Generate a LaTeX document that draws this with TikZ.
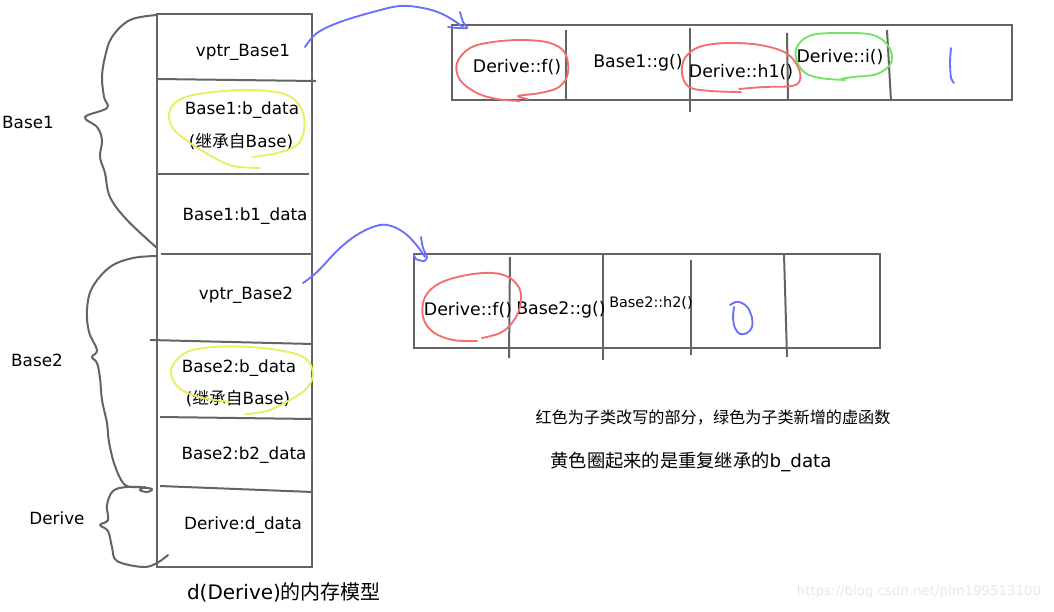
\documentclass[tikz,border=0pt]{standalone}
\usepackage{fontspec}
\setmainfont{DejaVu Sans}
\newfontfamily\cjk{Noto Sans CJK SC}
\definecolor{boxgray}{RGB}{100,100,100}
\definecolor{penblue}{RGB}{105,112,250}
\definecolor{penred}{RGB}{245,110,110}
\definecolor{pengreen}{RGB}{110,230,95}
\definecolor{penyellow}{RGB}{232,238,95}
\definecolor{wmgray}{RGB}{232,232,232}
\begin{document}
\begin{tikzpicture}[x=0.75pt,y=-0.75pt,
  frame/.style={draw=boxgray,line width=1.5pt},
  brace/.style={draw=boxgray,line width=1.5pt,line cap=round,line join=round},
  pen/.style={line width=1.4pt,line cap=round,line join=round},
  txt/.style={inner sep=0pt,font=\fontsize{12.6pt}{15pt}\selectfont},
  smalltxt/.style={inner sep=0pt,font=\fontsize{10.8pt}{13pt}\selectfont},
  lbl/.style={inner sep=0pt,font=\fontsize{12.6pt}{15pt}\selectfont}]
\useasboundingbox (0,0) rectangle (1054,611);

% ---------- memory column ----------
\draw[frame] (157,14) rectangle (312,567);
\draw[frame] (157,79) -- (316,81);
\draw[frame] (157,174) -- (309,174);
\draw[frame] (161,254) -- (313,254);
\draw[frame] (150,340) -- (313,344);
\draw[frame] (160,417) -- (313,419);
\draw[frame] (160,486) -- (313,492);

\node[txt] (vp1) at (243,52) {vptr\_Base1};
\node[txt] (b1d) at (242,110) {Base1:b\_data};
\node[txt] (b1i) at (241,142) {({\cjk 继承自}Base)};
\node[txt] (b1b) at (245,216) {Base1:b1\_data};
\node[txt] (vp2) at (246,295) {vptr\_Base2};
\node[txt] (b2d) at (239,368) {Base2:b\_data};
\node[txt] (b2i) at (238,399) {({\cjk 继承自}Base)};
\node[txt] (b2b) at (244,455) {Base2:b2\_data};
\node[txt] (dd)  at (243,525) {Derive:d\_data};
\node[inner sep=0pt,font=\fontsize{15pt}{17pt}\selectfont] (title) at (284,592) {d(Derive){\cjk 的内存模型}};

% ---------- left labels and braces ----------
\node[lbl] (lb1) at (28,122) {Base1};
\node[lbl] (lb2) at (37,360) {Base2};
\node[lbl] (lb3) at (57,518) {Derive};

\draw[brace] plot[smooth,tension=0.6] coordinates {(157,15) (130,20) (112,37) (105,57) (102,77) (104,97) (107,108) (85,117) (97,127) (102,140) (100,157) (105,173) (110,197) (127,220) (157,248)};
\draw[brace] plot[smooth,tension=0.6] coordinates {(157,256) (133,258) (110,267) (92,288) (87,310) (89,332) (97,350) (92,357) (97,363) (100,378) (102,400) (107,423) (109,442) (115,466) (125,485) (140,487) (152,489) (147,492) (140,490) (145,487)};
\draw[brace] plot[smooth,tension=0.6] coordinates {(147,488) (127,487) (113,491) (107,505) (108,520) (100,525) (108,531) (112,547) (117,561) (143,567) (157,563) (168,555)};

% ---------- vtable of Base1 ----------
\coordinate (vt1) at (452,25);
\draw[frame] (vt1) rectangle (1012,100);
\draw[frame] (566,30) -- (566,100);
\draw[frame] (690,28) -- (690,112);
\draw[frame] (787,33) -- (788,100);
\draw[frame] (887,30) -- (891,101);

\node[txt,font=\fontsize{13pt}{15pt}\selectfont] (f1) at (517,67) {Derive::f()};
\node[txt,font=\fontsize{13pt}{15pt}\selectfont] (g1) at (638,63) {Base1::g()};
\node[txt,font=\fontsize{13pt}{15pt}\selectfont] (h1) at (741,72) {Derive::h1()};
\node[txt,font=\fontsize{13pt}{15pt}\selectfont] (i1) at (840,57) {Derive::i()};

% ---------- vtable of Base2 ----------
\coordinate (vt2) at (414,254);
\draw[frame] (vt2) rectangle (880,348);
\draw[frame] (510,257) -- (509,358);
\draw[frame] (603,254) -- (603,360);
\draw[frame] (691,260) -- (691,355);
\draw[frame] (784,254) -- (787,357);

\node[txt,font=\fontsize{13pt}{15pt}\selectfont] (f2) at (468,310) {Derive::f()};
\node[txt,font=\fontsize{13pt}{15pt}\selectfont] (g2) at (561,310) {Base2::g()};
\node[smalltxt] (h2) at (651,303) {Base2::h2()};

% ---------- notes ----------
\node[inner sep=0pt,font=\cjk\fontsize{12.1pt}{14pt}\selectfont] (n1) at (713,418) {红色为子类改写的部分，绿色为子类新增的虚函数};
\node[inner sep=0pt,font=\fontsize{13.7pt}{15pt}\selectfont] (n2) at (691,462) {{\cjk 黄色圈起来的是重复继承的}b\_data};
\node[inner sep=0pt,text=wmgray,font=\fontsize{10pt}{12pt}\selectfont] (wm) at (919,592) {https://blog.csdn.net/plm199513100};

% ---------- blue arrows ----------
\coordinate (a1s) at (305,47);
\coordinate (a2s) at (303,283);
\draw[pen,penblue] plot[smooth,tension=0.6] coordinates {(a1s) (317,33) (340,22) (373,12) (400,6) (423,8) (440,13) (453,20) (463,27)};
\draw[pen,penblue] plot[smooth,tension=0.4] coordinates {(460,12) (463,22) (467,28) (458,28) (448,27)};
\draw[pen,penblue] plot[smooth,tension=0.6] coordinates {(a2s) (317,272) (340,248) (360,233) (380,225) (394,227) (407,235) (418,247) (425,257)};
\draw[pen,penblue] plot[smooth,tension=0.5] coordinates {(421,237) (423,248) (427,257) (424,261) (416,259) (414,255)};

% blue pen marks
\draw[pen,penblue] plot[smooth] coordinates {(951,48) (950,62) (951,78) (954,83)};
\draw[pen,penblue] plot[smooth,tension=0.6] coordinates {(730,305) (736,302) (742,303) (748,308) (752,318) (752,327) (747,333) (740,334) (735,328) (733,318) (734,307)};

% ---------- red circles ----------
\draw[pen,penred] plot[smooth,tension=0.6] coordinates {(528,99) (518,96) (540,93) (559,87) (568,73) (565,53) (550,43) (523,40) (493,42) (470,48) (457,63) (460,80) (477,93) (497,99) (520,101)};
\draw[pen,penred] plot[smooth,tension=0.6] coordinates {(739,89) (764,87) (792,86) (800,80) (798,67) (786,53) (760,45) (727,43) (699,47) (685,58) (682,73) (689,87) (711,91) (741,92)};
\draw[pen,penred] plot[smooth,tension=0.6] coordinates {(482,338) (500,333) (512,323) (520,307) (520,290) (510,278) (493,273) (467,275) (440,283) (425,297) (423,317) (433,332) (453,340) (477,341)};

% ---------- green circle ----------
\draw[pen,pengreen] plot[smooth,tension=0.6] coordinates {(841,79) (853,77) (877,74) (891,63) (889,47) (873,35) (841,33) (812,35) (798,45) (796,58) (804,72) (820,78) (845,80)};

% ---------- yellow circles ----------
\draw[pen,penyellow] plot[smooth,tension=0.6] coordinates {(260,168) (233,166) (213,157) (190,143) (172,127) (170,110) (183,98) (213,92) (253,90) (287,95) (302,110) (304,130) (297,145) (277,153) (253,157)};
\draw[pen,penyellow] plot[smooth,tension=0.6] coordinates {(245,414) (267,411) (290,400) (307,388) (313,373) (305,358) (283,351) (250,347) (213,347) (187,352) (173,365) (172,378) (182,390) (203,398) (230,402)};
\end{tikzpicture}
\end{document}
